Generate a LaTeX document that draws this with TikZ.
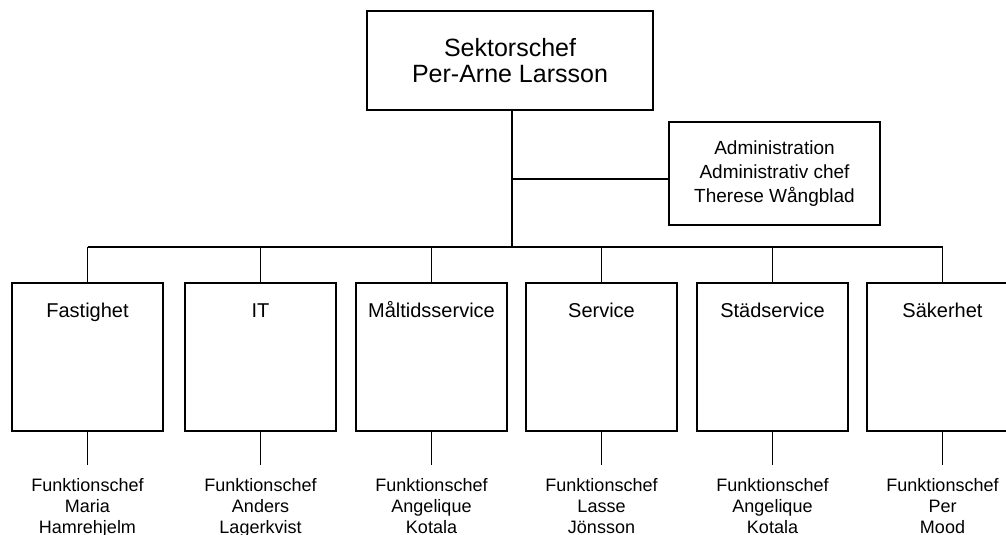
\documentclass[tikz,border=0pt]{standalone}
\usepackage{fontspec}
\setmainfont{Liberation Sans}
\begin{document}
\begin{tikzpicture}[x=1pt,y=-1pt,line width=1.7pt,
    box/.style={draw,rectangle,inner sep=0pt},
    headbox/.style={box,minimum width=286pt,minimum height=99pt,align=center,font=\fontsize{25}{26}\selectfont},
    adminbox/.style={box,minimum width=211pt,minimum height=103pt,align=center,font=\fontsize{19}{24}\selectfont},
    unitbox/.style={box,minimum width=151pt,minimum height=148pt},
    unitname/.style={anchor=base,yshift=-35pt,font=\fontsize{20}{24}\selectfont},
    chef/.style={anchor=north,align=center,inner xsep=0pt,inner ysep=13pt,font=\fontsize{18}{21}\selectfont}]
        \useasboundingbox (0,0) rectangle (1006,535);

        \node[headbox] (sektor) at (510,60.5) {Sektorschef\\Per-Arne Larsson};
        \node[adminbox] (admin) at (774.5,173.5) {Administration\\Administrativ chef\\Therese Wångblad};
        \coordinate (bus) at (512,247);
        \coordinate (adminjoin) at (512,179);

        \draw (sektor.south -| bus) -- (bus);
        \draw (adminjoin) -- (adminjoin -| admin.west);

        \foreach \name/\x/\title/\first/\last in {
                fastighet/87.5/Fastighet/Maria/Hamrehjelm,
                it/260.5/IT/Anders/Lagerkvist,
                maltid/431.5/Måltidsservice/Angelique/Kotala,
                service/601.5/Service/Lasse/Jönsson,
                stad/772.5/Städservice/Angelique/Kotala,
                sakerhet/942.5/Säkerhet/Per/Mood}
        {
                \node[unitbox,label={[unitname]north:\title}] (\name) at (\x,357) {};
                \node[chef] (\name-chef) at (\x,465) {Funktionschef\\\first\\\last};
                \draw (\name.south) -- (\name-chef.north);
                \draw (\name.north) -- (\name.north |- bus);
        }

        \draw (fastighet.north |- bus) -- (sakerhet.north |- bus);
\end{tikzpicture}
\end{document}
